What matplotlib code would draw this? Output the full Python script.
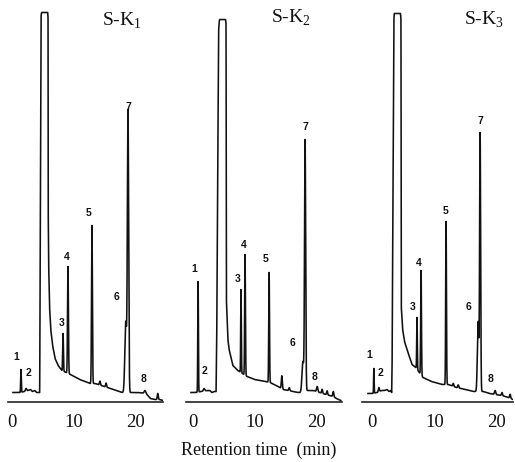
import numpy as np
import matplotlib.pyplot as plt

plt.rcParams['font.family'] = ['Liberation Serif', 'DejaVu Serif']
plt.rcParams['mathtext.fontset'] = 'custom'
plt.rcParams['mathtext.rm'] = 'Liberation Serif'

titles = ['S-K$_1$', 'S-K$_2$', 'S-K$_3$']
peak_names = ['1', '2', '3', '4', '5', '6', '7', '8']
xticks = [0, 10, 20]

# --- S-K1 ---
k1_rt = [1.46, 2.28, 8.3, 9.1, 13.0, 18.5, 18.86, 21.6]
k1_top = [32, 13, 68, 135, 176, 80, 288, 11]
k1_sig = [0.05, 0.1, 0.06, 0.07, 0.07, 0.15, 0.1, 0.12]
k1_minor_rt = [14.3, 15.3, 23.7]
k1_minor_h = [4, 4, 6]
k1_bg_t = [0.15, 1.3, 2.0, 2.6, 3.0, 3.3, 3.7, 4.0, 4.42, 4.5, 4.6, 4.72, 4.8,
           5.8, 5.86, 5.88, 5.95, 6.1, 6.3, 6.6, 7.0, 7.5, 8.1, 9.5, 11.0, 12.7,
           13.5, 15.0, 17.0, 17.9, 19.4, 20.5, 21.8, 22.5, 23.2, 24.0, 24.55]
k1_bg_s = [9, 9, 10, 11, 12, 10, 11, 9, 9, 9, 150, 385, 389,
           389, 384, 200, 140, 95, 72, 56, 43, 36, 31, 27, 22, 18,
           18, 15, 11, 9, 9, 9, 8, 3, 2, 2, 1]
k1_lab_t = [0.65, 2.76, 8.13, 8.94, 12.5, 17.07, 18.86, 21.46]
k1_lab_s = [45, 29, 79, 144, 188, 104, 295, 22]

# --- S-K2 ---
k2_rt = [0.9, 1.85, 7.82, 8.47, 12.35, 17.8, 18.15, 20.1]
k2_top = [120, 13, 112, 147, 129, 40, 260, 15]
k2_sig = [0.05, 0.1, 0.05, 0.06, 0.06, 0.15, 0.09, 0.1]
k2_minor_rt = [14.4, 15.6, 20.9, 21.7, 22.7]
k2_minor_h = [13, 3, 4, 4, 5]
k2_bg_t = [-0.25, 0.5, 1.4, 2.3, 2.8, 3.1, 3.5, 3.8, 3.9, 4.05, 4.2, 4.3, 4.38,
           5.32, 5.4, 5.43, 5.46, 5.7, 5.9, 6.5, 7.3, 8.8, 10.0, 11.7, 12.5,
           13.5, 14.6, 15.5, 16.2, 17.0, 17.5, 18.5, 19.5, 20.5, 21.5, 22.7,
           23.2, 23.9]
k2_bg_s = [9, 9, 10, 11, 11, 9, 10, 10, 60, 200, 370, 380, 382,
           382, 378, 300, 102, 62, 52, 36, 31, 25, 22, 20, 19,
           16, 12, 11, 10, 9, 9, 11, 11, 9, 7, 5,
           3, 1]
k2_lab_t = [0.24, 2.0, 7.34, 8.3, 11.7, 16.05, 18.15, 19.6]
k2_lab_s = [132, 30, 122, 157, 142, 58, 274, 25]

# --- S-K3 ---
k3_rt = [0.3, 1.1, 7.2, 7.85, 11.85, 16.98, 17.3, 19.7]
k3_top = [33, 14, 84, 131, 180, 80, 267, 11]
k3_sig = [0.04, 0.08, 0.05, 0.06, 0.06, 0.12, 0.08, 0.1]
k3_minor_rt = [13.0, 13.8, 20.8, 22.1]
k3_minor_h = [3, 3, 3, 4]
k3_bg_t = [-0.65, 0.0, 0.8, 1.5, 2.0, 2.4, 2.7, 3.0, 3.15, 3.22, 3.35, 3.48, 3.56,
           4.55, 4.63, 4.66, 4.68, 4.9, 5.2, 5.6, 6.4, 7.0, 8.15, 9.5, 11.2,
           12.2, 13.5, 15.0, 16.2, 16.6, 17.8, 18.8, 19.7, 20.8, 21.8, 22.56]
k3_bg_s = [8, 8, 9, 11, 11, 12, 10, 11, 9, 40, 200, 380, 388,
           388, 383, 300, 95, 72, 60, 52, 37, 34, 24, 20, 17,
           17, 14, 12, 10, 10, 10, 8, 7, 6, 4, 2]
k3_lab_t = [-0.48, 1.44, 6.56, 7.52, 11.84, 15.36, 17.28, 19.04]
k3_lab_s = [47, 29, 95, 139, 191, 95, 281, 22]

samples = [
    (k1_rt, k1_top, k1_sig, k1_minor_rt, k1_minor_h, k1_bg_t, k1_bg_s, k1_lab_t, k1_lab_s),
    (k2_rt, k2_top, k2_sig, k2_minor_rt, k2_minor_h, k2_bg_t, k2_bg_s, k2_lab_t, k2_lab_s),
    (k3_rt, k3_top, k3_sig, k3_minor_rt, k3_minor_h, k3_bg_t, k3_bg_s, k3_lab_t, k3_lab_s),
]

# axes placement in pixels (left, right) and x limits
W, H = 515, 462
ax_px = [(8, 163), (186, 342), (362, 513)]
xlims = [(-0.65, 24.55), (-1.05, 24.1), (-1.6, 22.56)]
title_pos = [(122, 21), (291, 18), (484, 20)]

fig = plt.figure(figsize=(W / 100, H / 100), dpi=100)

for i, (rt, top, sig, mrt, mh, bgt, bgs, lt, ls) in enumerate(samples):
    x0, x1 = ax_px[i]
    ax = fig.add_axes([x0 / W, 60.5 / H, (x1 - x0) / W, 401.5 / H])
    t = np.linspace(bgt[0], bgt[-1], 6000)
    y = np.interp(t, bgt, bgs)
    for r, a, s in zip(rt, top, sig):
        amp = a - np.interp(r, bgt, bgs)
        y = y + amp * np.exp(-0.5 * ((t - r) / s) ** 2)
    for r, a in zip(mrt, mh):
        y = y + a * np.exp(-0.5 * ((t - r) / 0.08) ** 2)
    ax.plot(t, y, color='#111111', lw=1.15, solid_joinstyle='round')
    for name, a, b in zip(peak_names, lt, ls):
        ax.text(a, b, name, ha='center', va='center', fontsize=7.5,
                fontweight='bold', family='Liberation Sans', color='#111111')
    ax.set_xlim(*xlims[i])
    ax.set_ylim(0, 401.5)
    ax.set_xticks(xticks)
    ax.set_xticklabels([str(v) for v in xticks])
    ax.tick_params(axis='x', length=0, pad=9, labelsize=13.5, colors='#111111')
    ax.set_yticks([])
    for sp in ['top', 'left', 'right']:
        ax.spines[sp].set_visible(False)
    ax.spines['bottom'].set_linewidth(1.2)
    ax.spines['bottom'].set_color('#222222')
    ax.patch.set_alpha(0)
    tx, ty = title_pos[i]
    fig.text(tx / W, 1 - ty / H, titles[i], ha='center', va='center',
             fontsize=14, color='#111111')

fig.text(259 / W, 1 - 450 / H, 'Retention time  (min)', ha='center', va='center',
         fontsize=13, color='#111111')

fig.savefig('out.png', dpi=100, facecolor='white')
